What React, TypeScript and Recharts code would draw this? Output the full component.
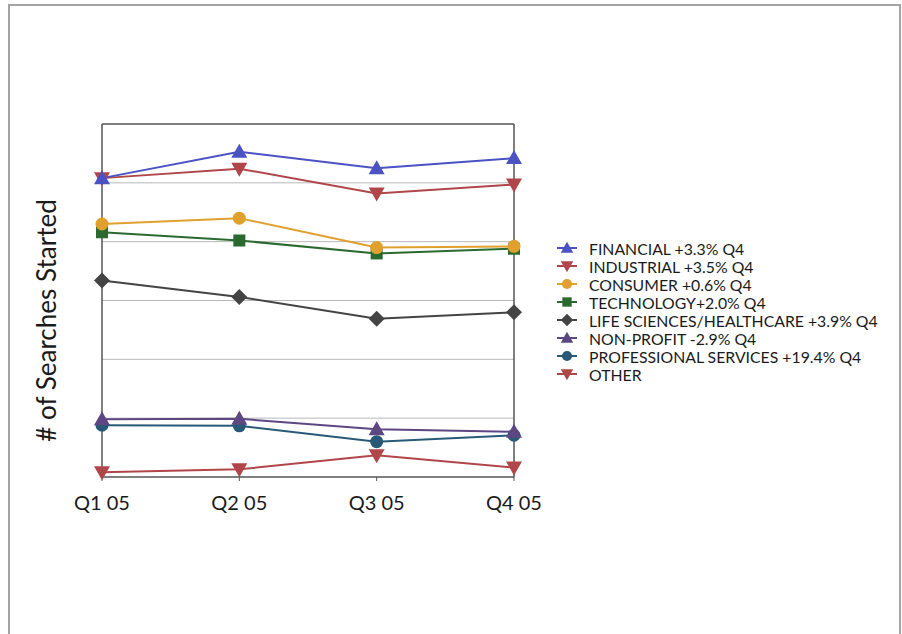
import React from "react";
import {
  LineChart,
  Line,
  XAxis,
  YAxis,
  ReferenceLine,
  Legend,
} from "recharts";

// Quarters on the x axis
const quarters = ["Q1 05", "Q2 05", "Q3 05", "Q4 05"];

// Searches started per sector, one value per quarter
const financial = [508, 553, 525, 542];
const industrial = [508, 524, 482, 497];
const consumer = [430, 440, 390, 392];
const technology = [416, 402, 380, 388];
const lifeSciences = [334, 306, 269, 280];
const nonProfit = [98, 99, 81, 77];
const professional = [88, 87, 60, 71];
const other = [8, 13, 37, 16];

// Horizontal gridline values (the axis itself carries no labels)
const gridValues = [100, 200, 300, 400, 500];

type Shape = "up" | "down" | "circle" | "square" | "diamond";

const seriesList: { key: string; name: string; color: string; shape: Shape; values: number[] }[] = [
  { key: "financial", name: "FINANCIAL +3.3% Q4", color: "#4a52c4", shape: "up", values: financial },
  { key: "industrial", name: "INDUSTRIAL +3.5% Q4", color: "#b1464a", shape: "down", values: industrial },
  { key: "consumer", name: "CONSUMER +0.6% Q4", color: "#e0a02e", shape: "circle", values: consumer },
  { key: "technology", name: "TECHNOLOGY+2.0% Q4", color: "#2b6a2f", shape: "square", values: technology },
  { key: "lifeSciences", name: "LIFE SCIENCES/HEALTHCARE +3.9% Q4", color: "#444444", shape: "diamond", values: lifeSciences },
  { key: "nonProfit", name: "NON-PROFIT -2.9% Q4", color: "#5c4782", shape: "up", values: nonProfit },
  { key: "professional", name: "PROFESSIONAL SERVICES +19.4% Q4", color: "#285a78", shape: "circle", values: professional },
  { key: "other", name: "OTHER", color: "#b1464a", shape: "down", values: other },
];

const data = quarters.map((q, i) => {
  const row: Record<string, string | number> = { quarter: q };
  seriesList.forEach((s) => {
    row[s.key] = s.values[i];
  });
  return row;
});

const FONT = "Lato, 'Open Sans', sans-serif";
const FRAME = "#555";

function Marker({ cx, cy, shape, color, k }: { cx: number; cy: number; shape: Shape; color: string; k: number }) {
  switch (shape) {
    case "up":
      return (
        <polygon
          points={`${cx},${cy - 8 * k} ${cx - 8 * k},${cy + 6 * k} ${cx + 8 * k},${cy + 6 * k}`}
          fill={color}
        />
      );
    case "down":
      return (
        <polygon
          points={`${cx},${cy + 8 * k} ${cx - 8 * k},${cy - 6 * k} ${cx + 8 * k},${cy - 6 * k}`}
          fill={color}
        />
      );
    case "circle":
      return <circle cx={cx} cy={cy} r={6.5 * k} fill={color} />;
    case "square":
      return <rect x={cx - 6 * k} y={cy - 6 * k} width={12 * k} height={12 * k} fill={color} />;
    default:
      return (
        <polygon
          points={`${cx},${cy - 8 * k} ${cx + 8 * k},${cy} ${cx},${cy + 8 * k} ${cx - 8 * k},${cy}`}
          fill={color}
        />
      );
  }
}

const makeDot = (shape: Shape, color: string) => (props: any) => {
  const { cx, cy, index } = props;
  if (cx == null || cy == null) return <g key={index} />;
  return (
    <g key={index}>
      <Marker cx={cx} cy={cy} shape={shape} color={color} k={1} />
    </g>
  );
};

function LegendBox() {
  return (
    <div style={{ fontFamily: FONT, fontSize: 15.8, color: "#1a1a1a" }}>
      {seriesList.map((s) => (
        <div key={s.key} style={{ display: "flex", alignItems: "center", height: 18 }}>
          <svg width={26} height={18} style={{ marginRight: 9 }}>
            <line x1={3} y1={9} x2={23} y2={9} stroke={s.color} strokeWidth={2} />
            <Marker cx={13} cy={9} shape={s.shape} color={s.color} k={0.78} />
          </svg>
          <span style={{ whiteSpace: "nowrap" }}>{s.name}</span>
        </div>
      ))}
    </div>
  );
}

export default function App() {
  return (
    <div style={{ position: "absolute", left: 0, top: 0, width: 902, height: 634, background: "#fff", overflow: "hidden" }}>
      <div
        style={{
          position: "absolute",
          left: 8,
          top: 4,
          width: 893,
          height: 660,
          border: "2px solid #a4a4a4",
          boxSizing: "border-box",
        }}
      />
      <div style={{ position: "absolute", left: 0, top: 0 }}>
        <LineChart
          width={902}
          height={634}
          data={data}
          margin={{ top: 124, right: 388, bottom: 127, left: 42 }}
        >
          {gridValues.map((v) => (
            <ReferenceLine key={v} y={v} stroke="#b8b8b8" strokeWidth={1} />
          ))}
          <ReferenceLine y={600} stroke={FRAME} strokeWidth={1.5} />
          <ReferenceLine x="Q4 05" stroke={FRAME} strokeWidth={1.5} />
          <XAxis
            dataKey="quarter"
            padding={{ left: 0, right: 0 }}
            height={30}
            axisLine={{ stroke: FRAME, strokeWidth: 1.5 }}
            tickLine={{ stroke: FRAME }}
            tickSize={4}
            tickMargin={15}
            tick={{ fontFamily: FONT, fontSize: 20, fill: "#1a1a1a" }}
            interval={0}
          />
          <YAxis
            domain={[0, 600]}
            width={60}
            tick={false}
            tickLine={false}
            axisLine={{ stroke: FRAME, strokeWidth: 1.5 }}
            label={{
              value: "# of Searches Started",
              angle: -90,
              position: "insideLeft",
              offset: 5,
              dy: 20,
              style: { textAnchor: "middle", fontFamily: FONT, fontSize: 26, fill: "#1a1a1a" },
            }}
          />
          {[...seriesList].reverse().map((s) => (
            <Line
              key={s.key}
              type="linear"
              dataKey={s.key}
              name={s.name}
              stroke={s.color}
              strokeWidth={2}
              dot={makeDot(s.shape, s.color)}
              activeDot={false}
              isAnimationActive={false}
            />
          ))}
          <Legend
            layout="horizontal"
            align="center"
            verticalAlign="middle"
            content={() => <LegendBox />}
            wrapperStyle={{ position: "absolute", left: 554, top: 239, width: 340 }}
          />
        </LineChart>
      </div>
    </div>
  );
}
